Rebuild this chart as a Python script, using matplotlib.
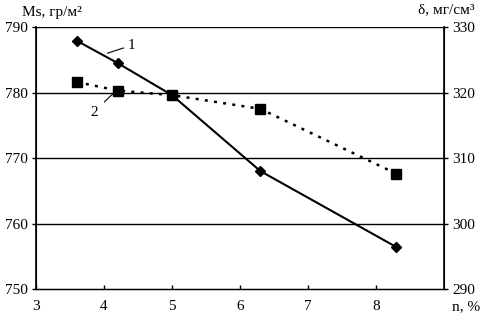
import matplotlib.pyplot as plt

plt.rcParams['font.family'] = ['Liberation Serif', 'DejaVu Serif']

n = [3.6, 4.2, 5.0, 6.3, 8.3]
ms = [787.9, 784.5, 779.6, 768.0, 756.4]
delta = [321.6, 320.3, 319.6, 317.5, 307.6]

xticks = [3, 4, 5, 6, 7, 8]
ms_ticks = [750, 760, 770, 780, 790]
d_ticks = [290, 300, 310, 320, 330]

fig = plt.figure(figsize=(4.85, 3.17), dpi=100)
ax = fig.add_axes([0.0742, 0.0883, 0.8413, 0.8265])
ax2 = ax.twinx()

ax.plot(n, ms, color='black', lw=1.5, marker='D', ms=5.5, zorder=3)
ax2.plot(n, delta, color='black', lw=1.8, ls=(0, (1.2, 2.5)), marker='s', ms=7, zorder=3)

ax.set_xlim(3, 9)
ax.set_ylim(750, 790)
ax2.set_ylim(290, 330)
ax.set_xticks(xticks)
ax.set_yticks(ms_ticks)
ax2.set_yticks(d_ticks)

for y in ms_ticks[1:]:
    ax.axhline(y, color='black', lw=1.0, zorder=1)

for a in (ax, ax2):
    a.spines['top'].set_visible(False)
    a.tick_params(labelsize=11, length=3, width=1.0, color='black', pad=3)
ax.spines['left'].set_linewidth(1.2)
ax2.spines['right'].set_linewidth(1.2)
ax.spines['bottom'].set_linewidth(1.0)
ax.tick_params(axis='x', direction='in', pad=8)

fig.text(0.045, 0.962, 'Ms, гр/м²', fontsize=11, ha='left', va='center')
fig.text(0.978, 0.968, 'δ, мг/см³', fontsize=11, ha='right', va='center')
fig.text(0.99, 0.032, 'n, %', fontsize=11, ha='right', va='center')

ax.annotate('1', xy=(4.05, 786.0), xytext=(4.35, 787.2), fontsize=11,
            va='center', ha='left',
            arrowprops=dict(arrowstyle='-', color='black', lw=0.8, shrinkA=1, shrinkB=0))
ax2.annotate('2', xy=(4.15, 320.0), xytext=(3.85, 317.0), fontsize=11,
             va='center', ha='center',
             arrowprops=dict(arrowstyle='-', color='black', lw=0.8, shrinkA=4, shrinkB=0))

fig.savefig('out.png', dpi=100)
